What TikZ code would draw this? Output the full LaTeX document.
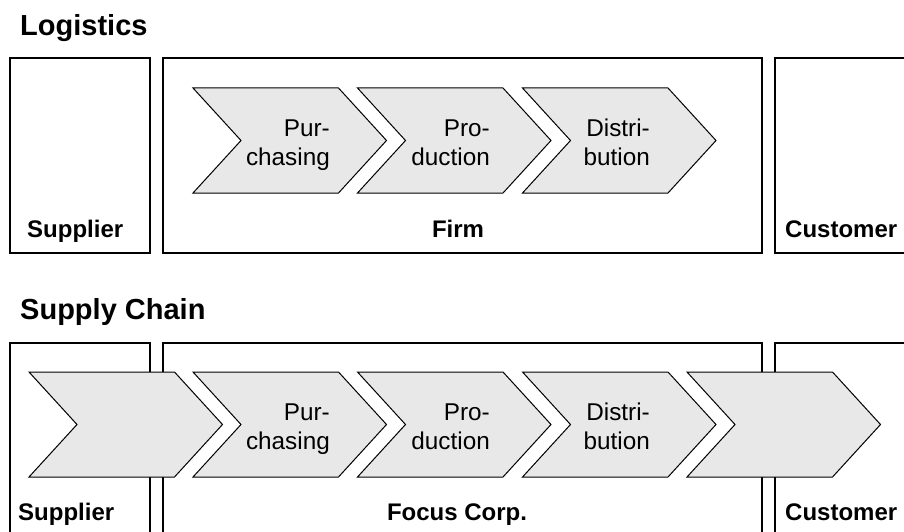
\documentclass[tikz,border=0pt]{standalone}
\usepackage{fontspec}
\setmainfont{Liberation Sans}
\definecolor{chevgray}{HTML}{E8E8E8}
\begin{document}
\begin{tikzpicture}[x=1pt,y=-1pt,
  box/.style={draw, line width=1.4pt},
  chev/.style={draw, fill=chevgray, line width=1pt, line join=miter},
  title/.style={font=\bfseries\fontsize{29}{34}\selectfont, anchor=base west, inner sep=0pt},
  lab/.style={font=\bfseries\fontsize{24}{28}\selectfont, inner sep=0pt},
  ctext/.style={font=\fontsize{24.3}{29.5}\selectfont, inner sep=0pt, anchor=base east},
  chevron/.pic={\draw[chev] (0,0) -- (145.5,0) -- (193.5,52.5) -- (145.5,105) -- (0,105) -- (48,52.5) -- cycle;}
]
\useasboundingbox (0,0) rectangle (904,532);
\clip (0,0) rectangle (904,532);
% ---------- Logistics ----------
\node[title] (t1) at (20,36) {Logistics};
\draw[box] (10,58) rectangle (150,253);
\draw[box] (163,58) rectangle (762,253);
\draw[box] (775,58) rectangle (920,253);
\node[lab, anchor=base west] (sup1) at (27,237) {Supplier};
\node[lab, anchor=base] (firm) at (458,237) {Firm};
\node[lab, anchor=base west] (cus1) at (785,237) {Customer};
\pic at (193,88) {chevron};
\pic at (357.5,88) {chevron};
\pic at (522.5,88) {chevron};
\node[ctext] (p1a) at (330,136.5) {Pur-};
\node[ctext] (p1b) at (330,165.5) {chasing};
\node[ctext] (pr1a) at (490,136.5) {Pro-};
\node[ctext] (pr1b) at (490,165.5) {duction};
\node[ctext] (d1a) at (650,136.5) {Distri-};
\node[ctext] (d1b) at (650,165.5) {bution};
% ---------- Supply Chain ----------
\node[title] (t2) at (20,319) {Supply Chain};
\draw[box] (10,343) rectangle (150,560);
\draw[box] (163,343) rectangle (762,560);
\draw[box] (775,343) rectangle (920,560);
\node[lab, anchor=base west] (sup2) at (18,520) {Supplier};
\node[lab, anchor=base] (focus) at (457,520) {Focus Corp.};
\node[lab, anchor=base west] (cus2) at (785,520) {Customer};
\pic at (29,372) {chevron};
\pic at (193,372) {chevron};
\pic at (357.5,372) {chevron};
\pic at (522.5,372) {chevron};
\pic at (687,372) {chevron};
\node[ctext] (p2a) at (330,420.5) {Pur-};
\node[ctext] (p2b) at (330,449.5) {chasing};
\node[ctext] (pr2a) at (490,420.5) {Pro-};
\node[ctext] (pr2b) at (490,449.5) {duction};
\node[ctext] (d2a) at (650,420.5) {Distri-};
\node[ctext] (d2b) at (650,449.5) {bution};
\end{tikzpicture}
\end{document}
